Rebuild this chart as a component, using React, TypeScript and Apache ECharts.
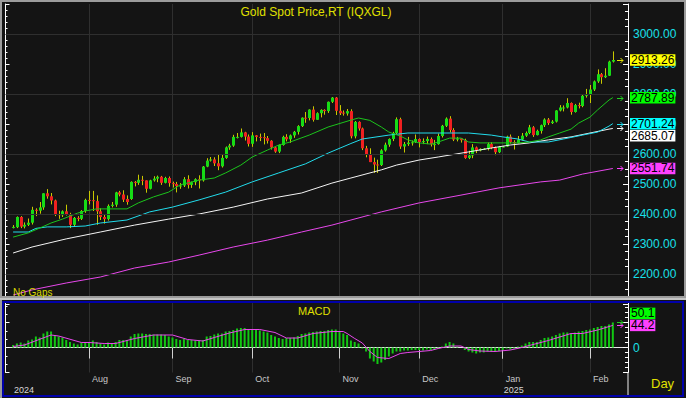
import React, { useEffect, useRef } from 'react';
import * as echarts from 'echarts';

const FONT = 'Liberation Sans, Arial, sans-serif';

// trading days (weekdays) shown on the chart
const dates: string[] = [];
for (let t = Date.UTC(2024, 6, 4); t <= Date.UTC(2025, 1, 11); t += 86400000) {
  const d = new Date(t);
  const wd = d.getUTCDay();
  if (wd !== 0 && wd !== 6) dates.push(d.toISOString().slice(0, 10));
}

// [open, close, low, high]
const ohlc: number[][] = [
  [2356, 2357, 2352, 2363], [2356, 2390, 2353, 2392], [2390, 2358, 2353, 2393], [2358, 2364, 2352, 2372], [2364, 2371, 2360, 2385],
  [2371, 2414, 2365, 2424], [2414, 2411, 2393, 2419], [2411, 2422, 2401, 2440], [2422, 2469, 2414, 2469], [2469, 2459, 2451, 2483],
  [2459, 2445, 2432, 2470], [2445, 2400, 2393, 2448], [2400, 2396, 2384, 2411], [2396, 2409, 2390, 2412], [2409, 2398, 2395, 2431],
  [2398, 2364, 2353, 2404], [2364, 2387, 2360, 2390], [2387, 2384, 2376, 2393], [2384, 2410, 2380, 2413], [2410, 2447, 2404, 2451],
  [2447, 2446, 2432, 2477], [2446, 2443, 2410, 2477], [2443, 2409, 2364, 2462], [2409, 2390, 2380, 2419], [2390, 2383, 2368, 2400],
  [2383, 2427, 2378, 2432], [2427, 2431, 2422, 2440], [2431, 2472, 2424, 2474], [2472, 2465, 2459, 2477], [2465, 2448, 2440, 2479],
  [2450, 2440, 2431, 2462], [2450, 2507, 2447, 2509], [2507, 2504, 2492, 2510], [2504, 2514, 2497, 2531], [2514, 2512, 2496, 2527],
  [2512, 2484, 2471, 2512], [2484, 2512, 2482, 2514], [2512, 2518, 2508, 2526], [2518, 2524, 2506, 2528], [2524, 2504, 2497, 2527],
  [2504, 2520, 2502, 2524], [2520, 2503, 2491, 2525], [2503, 2500, 2488, 2508], [2500, 2493, 2472, 2507], [2493, 2495, 2484, 2503],
  [2495, 2516, 2490, 2523], [2516, 2497, 2485, 2529], [2497, 2506, 2487, 2508], [2506, 2516, 2496, 2519], [2516, 2512, 2485, 2529],
  [2512, 2558, 2508, 2560], [2558, 2578, 2556, 2586], [2578, 2582, 2575, 2590], [2582, 2569, 2560, 2589], [2569, 2559, 2546, 2600],
  [2559, 2587, 2555, 2597], [2587, 2622, 2584, 2625], [2622, 2628, 2614, 2634], [2628, 2657, 2624, 2664], [2657, 2657, 2652, 2670],
  [2657, 2672, 2655, 2685], [2672, 2658, 2645, 2674], [2658, 2634, 2625, 2665], [2634, 2662, 2624, 2673], [2662, 2657, 2642, 2663],
  [2657, 2656, 2643, 2668], [2656, 2653, 2632, 2670], [2653, 2644, 2635, 2660], [2644, 2622, 2615, 2646], [2622, 2608, 2604, 2626],
  [2608, 2630, 2603, 2632], [2630, 2657, 2628, 2661], [2657, 2649, 2642, 2666], [2649, 2662, 2637, 2665], [2662, 2674, 2654, 2677],
  [2674, 2693, 2665, 2696], [2693, 2721, 2690, 2722], [2721, 2720, 2704, 2740], [2720, 2748, 2712, 2749], [2748, 2714, 2708, 2759],
  [2714, 2736, 2714, 2739], [2736, 2747, 2722, 2749], [2747, 2743, 2731, 2749], [2743, 2774, 2737, 2775], [2774, 2788, 2770, 2790],
  [2788, 2744, 2730, 2790], [2744, 2736, 2730, 2763], [2738, 2735, 2728, 2745], [2735, 2743, 2728, 2750], [2743, 2659, 2652, 2749],
  [2659, 2707, 2652, 2710], [2707, 2685, 2678, 2709], [2685, 2619, 2613, 2688], [2619, 2598, 2589, 2627], [2598, 2573, 2573, 2619],
  [2573, 2565, 2537, 2588], [2565, 2563, 2537, 2581], [2563, 2612, 2560, 2616], [2612, 2631, 2608, 2638], [2631, 2650, 2624, 2652],
  [2650, 2670, 2643, 2674], [2670, 2716, 2667, 2722], [2716, 2625, 2617, 2721], [2625, 2633, 2605, 2640], [2633, 2638, 2627, 2657],
  [2638, 2639, 2628, 2645], [2639, 2650, 2637, 2665], [2650, 2640, 2622, 2652], [2640, 2643, 2633, 2652], [2643, 2650, 2633, 2658],
  [2650, 2632, 2625, 2655], [2632, 2633, 2613, 2647], [2633, 2660, 2631, 2668], [2660, 2694, 2655, 2697], [2694, 2718, 2690, 2722],
  [2718, 2680, 2672, 2726], [2680, 2648, 2643, 2686], [2648, 2652, 2642, 2657], [2652, 2646, 2638, 2653], [2646, 2587, 2584, 2651],
  [2587, 2595, 2583, 2611], [2595, 2622, 2586, 2633], [2622, 2612, 2603, 2625], [2612, 2617, 2609, 2619], [2617, 2618, 2614, 2620],
  [2618, 2633, 2612, 2638], [2633, 2621, 2616, 2639], [2621, 2606, 2596, 2625], [2606, 2624, 2603, 2627], [2624, 2625, 2622, 2627],
  [2625, 2658, 2624, 2661], [2658, 2640, 2635, 2665], [2640, 2636, 2615, 2646], [2636, 2648, 2635, 2660], [2648, 2661, 2645, 2670],
  [2661, 2670, 2657, 2675], [2670, 2689, 2666, 2697], [2689, 2663, 2657, 2693], [2663, 2677, 2662, 2681], [2677, 2696, 2668, 2698],
  [2696, 2715, 2690, 2719], [2715, 2703, 2697, 2720], [2703, 2708, 2700, 2713], [2708, 2745, 2705, 2746], [2745, 2755, 2742, 2763],
  [2755, 2755, 2742, 2762], [2755, 2770, 2752, 2786], [2770, 2740, 2731, 2772], [2740, 2763, 2738, 2767], [2763, 2760, 2752, 2771],
  [2760, 2794, 2756, 2800], [2794, 2798, 2788, 2817], [2798, 2815, 2770, 2830], [2815, 2842, 2810, 2845], [2842, 2866, 2837, 2882],
  [2866, 2856, 2834, 2870], [2856, 2861, 2853, 2886], [2861, 2908, 2860, 2911], [2908, 2913.26, 2905, 2942],
];

// moving averages: [bar index, value]
const maGreen: number[][] = [[0, 2323], [4, 2337], [7, 2353], [10, 2370], [13, 2383], [17, 2403], [19, 2410], [22, 2417], [30, 2417], [33, 2437], [37, 2457], [41, 2473], [44, 2497], [49, 2513], [53, 2520], [56, 2537], [60, 2563], [63, 2590], [67, 2613], [70, 2630], [73, 2640], [78, 2663], [83, 2690], [89, 2713], [91, 2720], [94, 2712], [97, 2690], [99, 2673], [102, 2660], [104, 2647], [107, 2637], [110, 2633], [112, 2640], [115, 2653], [118, 2653], [120, 2640], [123, 2637], [133, 2637], [136, 2640], [139, 2647], [141, 2657], [144, 2670], [147, 2683], [149, 2703], [152, 2723], [154, 2747], [157, 2780], [158, 2787.89]];
const maCyan: number[][] = [[0, 2340], [4, 2340], [6, 2352], [9, 2357], [14, 2357], [19, 2360], [23, 2370], [30, 2380], [36, 2407], [42, 2423], [49, 2447], [56, 2473], [63, 2507], [70, 2537], [77, 2567], [83, 2603], [89, 2635], [92, 2650], [99, 2663], [104, 2670], [120, 2670], [126, 2663], [129, 2657], [133, 2650], [136, 2640], [141, 2640], [145, 2650], [150, 2663], [154, 2673], [157, 2693], [158, 2701.24]];
const maWhite: number[][] = [[0, 2270], [5, 2290], [14, 2317], [23, 2340], [32, 2363], [41, 2383], [49, 2400], [58, 2423], [67, 2450], [76, 2470], [84, 2503], [89, 2520], [97, 2547], [101, 2563], [107, 2580], [112, 2590], [120, 2607], [126, 2620], [131, 2630], [136, 2637], [141, 2647], [147, 2657], [152, 2670], [157, 2683], [158, 2685.07]];
const maMagenta: number[][] = [[0, 2130], [5, 2147], [14, 2170], [23, 2190], [32, 2220], [41, 2240], [49, 2263], [58, 2290], [67, 2313], [76, 2340], [84, 2363], [89, 2380], [97, 2407], [107, 2437], [118, 2463], [128, 2487], [139, 2507], [144, 2513], [150, 2533], [158, 2551.74]];

// MACD histogram (one per bar) and signal line
const macd: number[] = [
  5, 8, 10, 8, 14, 16, 22, 20, 28, 32,
  32, 25, 22, 20, 15, 11, 8, 6, 10, 11,
  10, 14, 11, 8, 6, 10, 8, 11, 15, 15,
  15, 22, 27, 28, 28, 27, 27, 26, 26, 26,
  25, 22, 20, 17, 15, 17, 15, 15, 14, 14,
  15, 22, 23, 26, 28, 28, 32, 33, 35, 38,
  39, 39, 37, 37, 35, 34, 32, 30, 25, 22,
  19, 17, 19, 19, 20, 23, 27, 28, 30, 31,
  32, 33, 33, 35, 36,
  36, 31, 28, 25, 14,
  11, 8, -2, -8, -22, -28, -33, -30, -25, -18,
  -12, -8, -8, -6, -6, -5, -5, -5, -6, -4,
  -5, -5, -2, 2, 8, 11, 8, 2, 0, -5,
  -8, -10, -12, -10, -10, -8, -8, -9, -7, -5,
  -2, -4, -2, 2, 4, 8, 11, 11, 11, 15,
  19, 20, 22, 25, 28, 30, 30, 28, 30, 32,
  33, 35, 36, 39, 41, 43, 43, 46, 50.1,
];
const signal: number[][] = [[0, 2], [3, 5], [10, 25], [12, 23], [18, 10], [20, 10], [24, 8], [27, 8], [32, 18], [37, 25], [42, 25], [46, 16], [50, 13], [53, 20], [57, 29], [61, 36], [65, 36], [69, 30], [72, 19], [75, 19], [79, 28], [84, 32], [87, 32], [88, 28], [90, 18], [92, 9], [94, -8], [96, -20], [99, -22], [102, -12], [104, -10], [110, -6], [112, -2], [115, 3], [118, 3], [120, -4], [123, -7], [127, -8], [131, -5], [134, 0], [136, 4], [141, 14], [144, 21], [147, 28], [150, 28], [154, 35], [158, 44.2]];

const MONTHS = ['Jan', 'Feb', 'Mar', 'Apr', 'May', 'Jun', 'Jul', 'Aug', 'Sep', 'Oct', 'Nov', 'Dec'];

const PAD_L = 2;
const PAD_R = 4;
const cats: string[] = [];
for (let i = 0; i < PAD_L; i++) cats.push('padL' + i);
dates.forEach((d) => cats.push(d));
for (let i = 0; i < PAD_R; i++) cats.push('padR' + i);

const monthStart = (index: number) => {
  const i = index - PAD_L;
  if (i <= 0 || i >= dates.length) return false;
  return dates[i].slice(5, 7) !== dates[i - 1].slice(5, 7);
};
const yearStart = (index: number) => {
  const i = index - PAD_L;
  if (i <= 0 || i >= dates.length) return false;
  return dates[i].slice(0, 4) !== dates[i - 1].slice(0, 4);
};
const yearLabel = (index: number) => index - PAD_L === 0 || yearStart(index);

const shift = (arr: number[][]) => arr.map((p) => [p[0] + PAD_L, p[1]]);

const UP = '#16dc16';
const DOWN = '#f02020';
const WICK = '#c8c800';
const GRID = '#2f2f2f';
const CYAN = '#18e0ea';

export default function App() {
  const ref = useRef<HTMLDivElement>(null);
  useEffect(() => {
    const chart = echarts.init(ref.current as HTMLDivElement, null, { renderer: 'svg', width: 686, height: 398 });
    const candleData = ohlc.map((d, i) => [i + PAD_L, d[0], d[1], d[2], d[3]]);
    const option: any = {
      animation: false,
      backgroundColor: '#141414',
      textStyle: { fontFamily: FONT },
      grid: [
        { left: 5.5, right: 58, top: 4, height: 300 },
        { left: 5.5, right: 58, top: 302.5, height: 70 },
      ],
      xAxis: [
        {
          type: 'category', gridIndex: 0, data: cats, boundaryGap: false,
          axisLine: { show: false }, axisTick: { show: false }, axisLabel: { show: false },
          splitLine: { show: true, interval: monthStart, lineStyle: { color: GRID, width: 1 } },
        },
        {
          type: 'category', gridIndex: 1, data: cats, boundaryGap: false, position: 'bottom',
          axisLine: { show: true, lineStyle: { color: '#e6e6e6', width: 1 } },
          axisTick: { show: true, interval: monthStart, length: 11, lineStyle: { color: '#d0d0d0' } },
          axisLabel: {
            show: true, interval: monthStart, align: 'left', margin: 2, padding: [0, 0, 0, 3],
            color: '#c8c8c8', fontSize: 9, fontFamily: FONT,
            formatter: (v: string) => MONTHS[parseInt(v.slice(5, 7), 10) - 1],
          },
          splitLine: { show: true, interval: monthStart, lineStyle: { color: GRID, width: 1 } },
        },
        {
          type: 'category', gridIndex: 1, data: cats, boundaryGap: false, position: 'bottom', offset: 11,
          axisLine: { show: true, lineStyle: { color: '#e6e6e6', width: 1 } },
          axisTick: { show: true, interval: yearStart, length: 11, lineStyle: { color: '#d0d0d0' } },
          axisLabel: {
            show: true, interval: yearLabel, align: 'left', margin: 2, padding: [0, 0, 0, 1],
            color: '#d8d8d8', fontSize: 9, fontFamily: FONT,
            formatter: (v: string) => v.slice(0, 4),
          },
          splitLine: { show: false },
        },
      ],
      yAxis: [
        {
          type: 'value', gridIndex: 0, position: 'right', min: 2100, max: 3100, interval: 100,
          axisLine: { show: true, lineStyle: { color: '#ffffff' } },
          axisTick: { show: true, inside: true, length: 5, lineStyle: { color: '#ffffff' } },
          minorTick: { show: true, splitNumber: 4, length: 3, lineStyle: { color: '#ffffff' } },
          axisLabel: {
            color: CYAN, fontSize: 12, fontFamily: FONT, margin: 5,
            showMinLabel: false, showMaxLabel: false,
            formatter: (v: number) => v.toFixed(2),
          },
          splitLine: { show: false },
        },
        {
          type: 'value', gridIndex: 0, position: 'left', min: 2100, max: 3100, interval: 100,
          axisLine: { show: true, lineStyle: { color: '#ffffff' } },
          axisTick: { show: true, inside: true, length: 4, lineStyle: { color: '#ffffff' } },
          minorTick: { show: true, splitNumber: 5, length: 2, lineStyle: { color: '#ffffff' } },
          axisLabel: { show: false },
          splitLine: { show: false },
        },
        {
          type: 'value', gridIndex: 1, position: 'right', min: -50, max: 90, interval: 50,
          axisLine: { show: true, lineStyle: { color: '#ffffff' } },
          axisTick: { show: true, inside: true, length: 5, lineStyle: { color: '#ffffff' } },
          minorTick: { show: true, splitNumber: 5, length: 3, lineStyle: { color: '#ffffff' } },
          axisLabel: {
            color: CYAN, fontSize: 12, fontFamily: FONT, margin: 5,
            formatter: (v: number) => (v === 0 ? '0' : ''),
          },
          splitLine: { show: false },
        },
        {
          type: 'value', gridIndex: 1, position: 'left', min: -50, max: 90, interval: 50,
          axisLine: { show: true, lineStyle: { color: '#ffffff' } },
          axisTick: { show: true, inside: true, length: 4, lineStyle: { color: '#ffffff' } },
          minorTick: { show: true, splitNumber: 3, length: 2, lineStyle: { color: '#ffffff' } },
          axisLabel: { show: false },
          splitLine: { show: false },
        },
      ],
      series: [
        {
          type: 'line', name: 'MA200', xAxisIndex: 0, yAxisIndex: 0, z: 1,
          data: shift(maMagenta), showSymbol: false, symbol: 'none',
          lineStyle: { color: '#e848ec', width: 1 },
          markLine: {
            silent: true, symbol: 'none', label: { show: false },
            lineStyle: { color: GRID, type: 'solid', width: 1 },
            data: [{ yAxis: 2200 }, { yAxis: 2400 }, { yAxis: 2600 }, { yAxis: 2800 }, { yAxis: 3000 }],
          },
        },
        {
          type: 'custom', name: 'Gold', xAxisIndex: 0, yAxisIndex: 0, z: 3,
          data: candleData,
          encode: { x: 0, y: [1, 2, 3, 4] },
          renderItem: (params: any, api: any) => {
            const x = api.value(0);
            const o = api.value(1);
            const c = api.value(2);
            const lo = api.value(3);
            const hi = api.value(4);
            const pO = api.coord([x, o]);
            const pC = api.coord([x, c]);
            const pL = api.coord([x, lo]);
            const pH = api.coord([x, hi]);
            const cx = Math.round(pO[0]) + 0.5;
            const top = Math.min(pO[1], pC[1]);
            const bh = Math.max(1, Math.abs(pO[1] - pC[1]));
            return {
              type: 'group',
              children: [
                { type: 'line', shape: { x1: cx, y1: pH[1], x2: cx, y2: pL[1] }, style: { stroke: WICK, lineWidth: 1 } },
                { type: 'rect', shape: { x: cx - 1.5, y: top, width: 3, height: bh }, style: { fill: c >= o ? UP : DOWN } },
              ],
            };
          },
        },
        {
          type: 'line', name: 'MA100', xAxisIndex: 0, yAxisIndex: 0, z: 4,
          data: shift(maWhite), showSymbol: false, symbol: 'none',
          lineStyle: { color: '#f4f4f4', width: 1 },
        },
        {
          type: 'line', name: 'MA50', xAxisIndex: 0, yAxisIndex: 0, z: 4,
          data: shift(maCyan), showSymbol: false, symbol: 'none',
          lineStyle: { color: '#22dcec', width: 1 },
        },
        {
          type: 'line', name: 'MA20', xAxisIndex: 0, yAxisIndex: 0, z: 4,
          data: shift(maGreen), showSymbol: false, symbol: 'none',
          lineStyle: { color: '#1cc41c', width: 1 },
        },
        {
          type: 'bar', name: 'MACD', xAxisIndex: 1, yAxisIndex: 2, z: 3,
          data: macd.map((v, i) => [i + PAD_L, v]),
          barWidth: 2,
          itemStyle: { color: '#12c812' },
        },
        {
          type: 'line', name: 'Signal', xAxisIndex: 1, yAxisIndex: 2, z: 4,
          data: shift(signal), showSymbol: false, symbol: 'none',
          lineStyle: { color: '#e848ec', width: 1 },
        },
      ],
    };
    chart.setOption(option);

    const yP = (v: number) => chart.convertToPixel({ yAxisIndex: 0 } as any, v) as unknown as number;
    const yM = (v: number) => chart.convertToPixel({ yAxisIndex: 2 } as any, v) as unknown as number;

    const lastClose = ohlc[ohlc.length - 1][1];
    const priceTags = [
      { v: lastClose, bg: '#ffff00', arrow: '#e0e000' },
      { v: maGreen[maGreen.length - 1][1], bg: '#00ff00', arrow: '#20d020' },
      { v: maCyan[maCyan.length - 1][1], bg: '#00ffff', arrow: '#20e0f0' },
      { v: maWhite[maWhite.length - 1][1], bg: '#ffffff', arrow: '#ffffff' },
      { v: maMagenta[maMagenta.length - 1][1], bg: '#ff40ff', arrow: '#ff40ff' },
    ];
    const macdTags = [
      { v: signal[signal.length - 1][1], bg: '#ff40ff', arrow: '#ff40ff' },
      { v: macd[macd.length - 1], bg: '#00ff00', arrow: '#20d020' },
    ];

    const BOX_H = 11.5;
    const g: any[] = [];
    const arrow = (y: number, color: string) => {
      g.push({
        type: 'polyline', z: 110, shape: { points: [[617, y], [623, y]] },
        style: { stroke: color, lineWidth: 1, fill: 'none' },
      });
      g.push({
        type: 'polyline', z: 110, shape: { points: [[620.5, y - 2.5], [623, y], [620.5, y + 2.5]] },
        style: { stroke: color, lineWidth: 1, fill: 'none' },
      });
    };
    const box = (y: number, text: string, bg: string) => {
      g.push({
        type: 'text', z: 111, x: 630, y,
        style: {
          text, fill: '#000000', fontSize: 12, fontFamily: FONT, lineHeight: BOX_H,
          backgroundColor: bg, padding: [0, 1, 0, 1], verticalAlign: 'middle', align: 'left',
        },
      });
    };

    // price tags: placed top-down, pushed down if overlapping
    let prev = -1e9;
    priceTags.forEach((t) => {
      const ty = yP(t.v);
      arrow(Math.round(ty) + 0.5, t.arrow);
      const by = Math.max(ty, prev + BOX_H + 0.5);
      box(by, t.v.toFixed(2), t.bg);
      prev = by;
    });
    // MACD tags: placed bottom-up, pushed up if overlapping
    let prevM = 1e9;
    macdTags.forEach((t) => {
      const ty = yM(t.v);
      arrow(Math.round(ty) + 0.5, t.arrow);
      const by = Math.min(ty, prevM - BOX_H - 0.5);
      box(by, t.v.toFixed(1), t.bg);
      prevM = by;
    });

    const frame: any[] = [
      { type: 'rect', z: 100, shape: { x: 0, y: 297, width: 686, height: 5.5 }, style: { fill: '#141414' } },
      { type: 'rect', z: 101, shape: { x: 0, y: 297, width: 686, height: 3 }, style: { fill: '#c4c4c4' } },
      { type: 'rect', z: 101, shape: { x: 1, y: 1, width: 684, height: 296 }, style: { fill: 'none', stroke: '#9c9c9c', lineWidth: 2 } },
      { type: 'rect', z: 101, shape: { x: 0, y: 300, width: 2, height: 98 }, style: { fill: '#9c9c9c' } },
      { type: 'rect', z: 101, shape: { x: 3, y: 302, width: 680, height: 94 }, style: { fill: 'none', stroke: '#0000aa', lineWidth: 2 } },
      { type: 'line', z: 101, shape: { x1: 628, y1: 372.5, x2: 628, y2: 395 }, style: { stroke: '#f0f0f0', lineWidth: 1 } },
      {
        type: 'text', z: 102, x: 316, y: 12,
        style: { text: 'Gold Spot Price,RT (IQXGL)', fill: '#e0e000', fontSize: 12, fontFamily: FONT, align: 'center', verticalAlign: 'middle' },
      },
      {
        type: 'text', z: 102, x: 13, y: 292,
        style: { text: 'No Gaps', fill: '#d8d800', fontSize: 10, fontFamily: FONT, align: 'left', verticalAlign: 'middle' },
      },
      {
        type: 'text', z: 102, x: 298, y: 311,
        style: { text: 'MACD', fill: '#e0e000', fontSize: 11, fontFamily: FONT, align: 'left', verticalAlign: 'middle' },
      },
      {
        type: 'text', z: 102, x: 651, y: 383,
        style: { text: 'Day', fill: '#e0e000', fontSize: 13, fontFamily: FONT, align: 'left', verticalAlign: 'middle' },
      },
    ];

    chart.setOption({ graphic: frame.concat(g) });
    return () => chart.dispose();
  }, []);
  return <div ref={ref} style={{ position: 'fixed', left: 0, top: 0, width: 686, height: 398 }} />;
}
